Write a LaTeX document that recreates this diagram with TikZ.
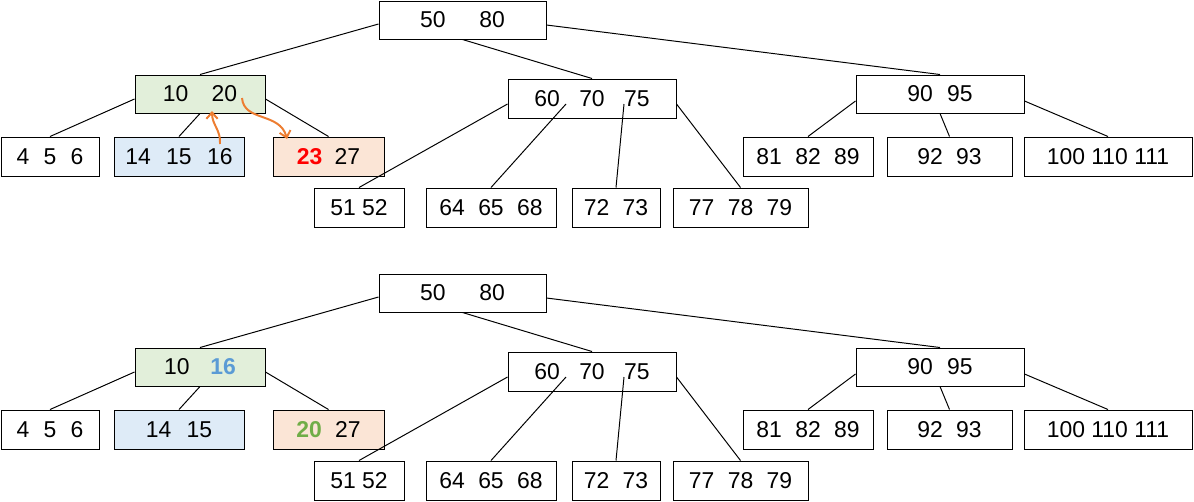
\documentclass[tikz,border=0pt]{standalone}
\usepackage{fontspec}
\setmainfont{Liberation Sans}
\usetikzlibrary{arrows.meta}
\definecolor{greenfill}{RGB}{226,239,218}
\definecolor{bluefill}{RGB}{222,235,247}
\definecolor{peachfill}{RGB}{251,229,214}
\definecolor{orangeline}{RGB}{237,125,49}
\definecolor{bluetext}{RGB}{91,155,213}
\definecolor{greentext}{RGB}{112,173,71}
\newcommand{\kg}[1][0.58]{\hspace{#1em}}
\tikzset{
    keybox/.style 2 args = {rectangle, draw=black, line width=0.7pt, minimum width={#1*0.025cm}, minimum height={#2*0.025cm}, inner sep=0pt, fill=white, font=\fontsize{16.3}{19}\selectfont, text=black},
    edgen/.style = {-, line width=0.7pt, black},
    edgeo/.style = {-{Straight Barb[length=4.5pt,width=8pt]}, line width=1.4pt, orangeline}, % move
}
% #1 prefix, #2 y offset, #3 keys of the green node, #4 blue leaf, #5 peach leaf
\newcommand{\btree}[5]{%
\begin{scope}[shift={(0,#2)}]
\node[keybox={167}{38}] (#1root) at (462.5,20) {50\kg[1.47]80};
\node[keybox={130}{38}, fill=greenfill] (#1a) at (200,94) {#3};
\node[keybox={168}{39}] (#1b) at (592,98.5) {60\kg[0.85]70\kg[0.85]75};
\node[keybox={168}{38}] (#1c) at (940,94) {90\kg[0.62]95};
%
\node[keybox={98}{39}] (#1l1) at (50,156.5) {4\kg[0.62]5\kg[0.62]6};
\node[keybox={130}{39}, fill=bluefill] (#1l2) at (179,156.5) {#4};
\node[keybox={111}{39}, fill=peachfill] (#1l3) at (328.5,156.5) {#5};
\node[keybox={130}{39}] (#1l7) at (808,156.5) {81\kg82\kg89};
\node[keybox={125}{39}] (#1l8) at (949.5,156.5) {92\kg93};
\node[keybox={168}{39}] (#1l9) at (1108,156.5) {100 110 111};
\node[keybox={90}{39}] (#1m1) at (359,207.5) {51 52};
\node[keybox={130}{39}] (#1m2) at (491,207.5) {64\kg65\kg68};
\node[keybox={88}{39}] (#1m3) at (616,207.5) {72\kg73};
\node[keybox={135}{39}] (#1m4) at (740.5,207.5) {77\kg78\kg79};
%
\draw[edgen] ([shift={(0,4)}]#1root.west) -- (#1a.north);
\draw[edgen] (#1root.south) -- (#1b.north);
\draw[edgen] ([shift={(0,5)}]#1root.east) -- (#1c.north);
\draw[edgen] ([shift={(0,5)}]#1a.west) -- (#1l1.north);
\draw[edgen] (#1a.south) -- (#1l2.north);
\draw[edgen] ([shift={(0,5)}]#1a.east) -- (#1l3.north);
\draw[edgen] ([shift={(0,5.5)}]#1b.west) -- (#1m1.north);
\draw[edgen] ([shift={(-26,5.5)}]#1b.center) -- (#1m2.north);
\draw[edgen] ([shift={(32,5.5)}]#1b.center) -- (#1m3.north);
\draw[edgen] ([shift={(0,5.5)}]#1b.east) -- (#1m4.north);
\draw[edgen] ([shift={(0,7)}]#1c.west) -- (#1l7.north);
\draw[edgen] (#1c.south) -- (#1l8.north);
\draw[edgen] ([shift={(0,7)}]#1c.east) -- (#1l9.north);
\end{scope}}

\begin{document}
\begin{tikzpicture}[x=0.025cm, y=-0.025cm]
\useasboundingbox[fill=white] (0,0) rectangle (1194,501);
\btree{t}{0}{10\kg[1.02]20}{14\kg[0.67]15\kg[0.67]16}{\textbf{\textcolor{red}{23}}\kg[0.53]27}
\btree{u}{273}{10\kg[0.9]\textbf{\textcolor{bluetext}{16}}}{14\kg[0.67]15}{\textbf{\textcolor{greentext}{20}}\kg27}
%
\coordinate (k16) at (220,144);
\coordinate (k20up) at (212,111);
\coordinate (k20) at (242,98);
\coordinate (k23) at (287,139);
\draw[edgeo] (k16) .. controls (221,130) and (212,125) .. (k20up);
\draw[edgeo] (k20) .. controls (244,122) and (280,112) .. (k23);
\end{tikzpicture}
\end{document}
